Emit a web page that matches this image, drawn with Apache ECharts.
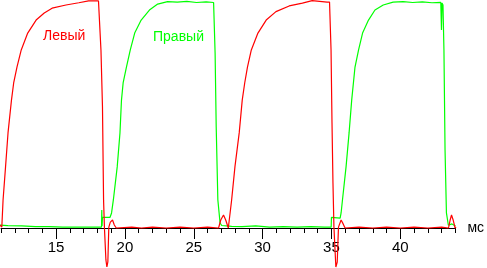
<!DOCTYPE html>
<html>
<head>
<meta charset="utf-8">
<script src="https://cdn.jsdelivr.net/npm/echarts@6/dist/echarts.min.js"></script>
<style>
html,body{margin:0;padding:0;background:#fff;}
#c{width:487px;height:268px;}
</style>
</head>
<body>
<div id="c"></div>
<script>
// time in ms, signal level in % of full scale
var redX = [10.92,11.00,11.06,11.15,11.33,11.51,11.76,11.92,12.16,12.47,12.94,13.55,14.14,14.71,15.72,16.65,17.36,18.08,18.20,18.26,18.37,18.45,18.51,18.62,18.69,18.76,18.83,18.94,19.10,19.23,19.37,20.50,21.20,22.00,23.00,24.00,25.00,26.00,26.80,26.96,27.16,27.32,27.51,27.63,27.75,27.99,28.30,28.52,28.70,28.90,29.18,29.66,30.26,30.97,31.93,32.89,33.60,34.68,34.86,34.97,35.04,35.11,35.18,35.32,35.42,35.51,35.70,35.85,35.99,37.00,38.00,39.00,40.00,41.00,42.00,43.00,43.50,43.62,43.72,43.84,43.98,44.05];
var redY = [1.3,0.9,0.4,12.3,26.8,41.7,56.1,63.6,70.6,78.1,85.5,91.2,94.3,96.4,97.8,98.8,99.6,99.6,99.1,78.1,53.1,12.0,0.4,-14.0,-17.1,-14.9,0.4,2.6,3.5,1.3,0,0.4,0,0.4,0,0.4,0,0.4,0,3.5,5.7,3.5,0,0,12.3,26.8,41.7,56.1,63.6,70.6,78.1,85.5,91.2,94.9,97.4,98.6,99.7,99.1,99.1,78.1,46.1,19.7,0.4,-17.1,-14.9,0.4,3.5,1.8,0,0.4,0,0.4,0,0.4,0,0.4,0,3.5,5.7,3.5,0,0.4];
var greenX = [10.92,11.50,12.50,13.50,14.50,15.50,16.50,17.50,18.30,18.32,18.34,18.37,18.92,19.03,19.16,19.44,19.64,19.75,19.87,20.11,20.39,20.71,21.18,21.78,22.38,23.10,23.80,24.50,25.20,25.90,26.44,26.55,26.63,26.75,26.91,27.03,27.75,28.50,29.50,30.50,31.50,32.50,33.50,34.50,34.98,35.00,35.05,35.63,35.70,35.80,36.06,36.28,36.47,36.71,36.97,37.26,37.69,38.16,38.76,39.48,40.20,40.90,41.60,42.30,42.94,42.99,43.03,43.10,43.17,43.25,43.35,43.49,43.75,44.01];
var greenY = [1.3,1.0,0.9,0.6,0.6,0.4,0.4,0.4,0.4,7.9,0.9,4.7,4.7,6.6,12.3,26.8,41.7,56.1,63.6,70.6,78.1,85.5,91.2,95.6,98.2,99.3,99.1,99.4,98.9,99.2,98.9,76.8,44.3,12.3,2.2,1.1,0.7,0.6,0.9,0.4,0.6,0.4,0.6,0.4,0.4,4.7,4.3,4.3,6.6,12.3,26.8,41.7,56.1,70.6,78.1,85.5,91.2,95.6,97.8,99.1,99.3,98.9,99.2,98.8,99.0,86.8,98.7,97.8,78.1,34.2,6.6,1.2,1.8,0.9];
var majorTicks = [15,20,25,30,35,40];
var minorTicks = [11,12,13,14,15,16,17,18,19,20,21,22,23,24,25,26,27,28,29,30,31,32,33,34,35,36,37,38,39,40,41,42,43,44];
var seriesNames = ['Левый','Правый'];
var unitName = 'мс';

function pairs(xs, ys){ var o=[]; for(var i=0;i<xs.length;i++) o.push([xs[i], ys[i]]); return o; }

var chart = echarts.init(document.getElementById('c'), null, {renderer:'canvas'});
var FONT = 'Liberation Sans, Arial, sans-serif';
chart.setOption({
  animation: false,
  backgroundColor: '#ffffff',
  grid: {left: 1, right: 25, top: 0, bottom: 40, containLabel: false},
  xAxis: [{
    type: 'value', min: 11, max: 44, position: 'bottom',
    name: unitName, nameLocation: 'end', nameGap: 12,
    nameTextStyle: {color:'#000', fontSize: 14, fontFamily: FONT, verticalAlign: 'middle'},
    axisLine: {show: true, onZero: false, lineStyle: {color:'#000', width: 1}},
    axisTick: {show: true, customValues: majorTicks, length: 11, lineStyle: {color:'#000', width: 1}},
    axisLabel: {show: true, customValues: majorTicks, margin: 12, color:'#000', fontSize: 15, fontFamily: FONT},
    splitLine: {show: false}
  },{
    type: 'value', min: 11, max: 44, position: 'bottom',
    axisLine: {show: false, onZero: false},
    axisTick: {show: true, customValues: minorTicks, length: 5, lineStyle: {color:'#000', width: 1}},
    axisLabel: {show: false},
    splitLine: {show: false}
  }],
  yAxis: {type: 'value', min: 0, max: 100, show: false, splitLine: {show:false}},
  series: [{
    name: seriesNames[1], type: 'line', data: pairs(greenX, greenY), showSymbol: false, clip: false,
    lineStyle: {color: '#00ff00', width: 1.2}, itemStyle:{color:'#00ff00'}
  },{
    name: seriesNames[0], type: 'line', data: pairs(redX, redY), showSymbol: false, clip: false,
    lineStyle: {color: '#ff0000', width: 1.2}, itemStyle:{color:'#ff0000'}
  }],
  graphic: [
    {type:'text', left: 43, top: 29, style:{text: seriesNames[0], fill:'#ff0000', font: '14px ' + FONT}},
    {type:'text', left: 153, top: 30, style:{text: seriesNames[1], fill:'#00ff00', font: '14px ' + FONT}}
  ]
});
</script>
</body>
</html>
